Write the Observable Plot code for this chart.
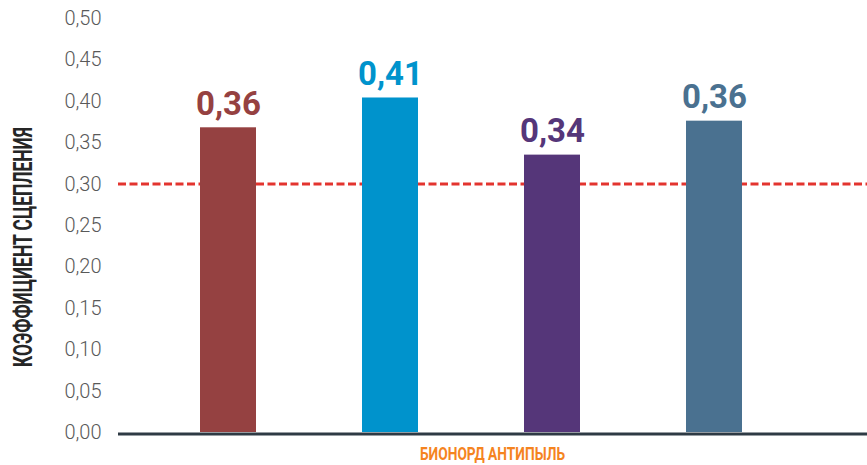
<!DOCTYPE html>
<html>
<head>
<meta charset="utf-8">
<script src="https://cdn.jsdelivr.net/npm/d3@7"></script>
<script src="https://cdn.jsdelivr.net/npm/@observablehq/plot@0.6"></script>
<style>
  html, body { margin: 0; padding: 0; background: #fff; }
  #chart svg { display: block; }
</style>
</head>
<body>
<div id="chart"></div>
<script>
// ---- data ----
const categories = ["Образец 1", "Образец 2", "Образец 3", "Образец 4"];
const values = [0.368, 0.404, 0.335, 0.376];
const valueLabels = ["0,36", "0,41", "0,34", "0,36"];
const barColors = ["#954141", "#0093CC", "#553679", "#4A7190"];
const yTicks = [0, 0.05, 0.10, 0.15, 0.20, 0.25, 0.30, 0.35, 0.40, 0.45, 0.50];
const threshold = [0.30];
const yTitle = "КОЭФФИЦИЕНТ СЦЕПЛЕНИЯ";
const xTitle = "БИОНОРД АНТИПЫЛЬ";

const data = categories.map((c, i) => ({name: c, value: values[i], label: valueLabels[i]}));

const W = 867, H = 465, ML = 118, MR = 0, MT = 18, MB = 33;

const svg = Plot.plot({
  width: W,
  height: H,
  marginLeft: ML,
  marginRight: MR,
  marginTop: MT,
  marginBottom: MB,
  style: {fontFamily: "Roboto, sans-serif", background: "#fff"},
  x: {domain: categories, axis: null, paddingInner: 0.657, paddingOuter: 0.64, align: 0.394},
  y: {domain: [0, 0.5], axis: null},
  color: {domain: categories, range: barColors},
  marks: [
    Plot.axisY({
      ticks: yTicks,
      tickFormat: d => d.toFixed(2).replace(".", ","),
      tickSize: 0,
      tickPadding: 17,
      label: null,
      fontSize: 20,
      fontWeight: 300,
      fill: "#595959"
    }),
    Plot.ruleY(threshold, {stroke: "#E3342F", strokeWidth: 3, strokeDasharray: "8,3.5"}),
    Plot.barY(data, {x: "name", y: "value", fill: "name"}),
    Plot.ruleY([0], {stroke: "#2E3A44", strokeWidth: 3, dy: 1.5}),
    Plot.text(data, {
      x: "name", y: "value", text: "label", fill: "name",
      lineAnchor: "bottom", dy: -13,
      fontSize: 33, fontWeight: 700,
      ariaLabel: "value-labels"
    })
  ]
});

const s = d3.select(svg);
s.selectAll('g[aria-label="value-labels"] text')
  .attr("textLength", 63)
  .attr("lengthAdjust", "spacingAndGlyphs");

s.append("text")
  .attr("transform", "translate(31.5,247) rotate(-90)")
  .attr("text-anchor", "middle")
  .attr("font-family", "Roboto, sans-serif")
  .attr("font-size", 26)
  .attr("font-weight", 700)
  .attr("fill", "#262626")
  .attr("textLength", 240)
  .attr("lengthAdjust", "spacingAndGlyphs")
  .text(yTitle);

s.append("text")
  .attr("x", (ML + W - MR) / 2)
  .attr("y", 460)
  .attr("text-anchor", "middle")
  .attr("font-family", "Roboto, sans-serif")
  .attr("font-size", 19)
  .attr("font-weight", 700)
  .attr("fill", "#F5841F")
  .attr("textLength", 145)
  .attr("lengthAdjust", "spacingAndGlyphs")
  .text(xTitle);

document.getElementById("chart").appendChild(svg);
</script>
</body>
</html>
